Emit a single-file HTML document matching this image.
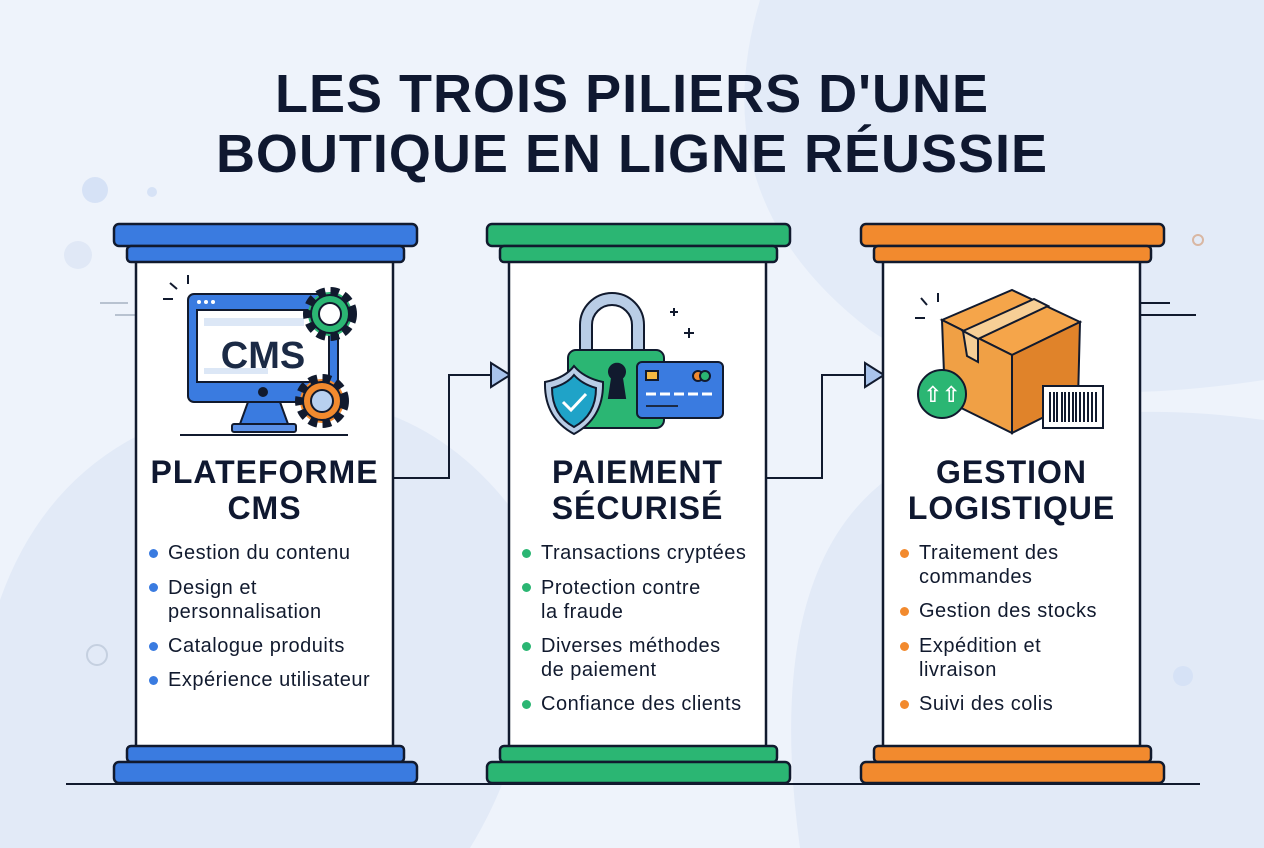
<!DOCTYPE html>
<html><head><meta charset="utf-8"><style>
*{margin:0;padding:0;box-sizing:border-box}
body{width:1264px;height:848px;overflow:hidden;background:#eef3fb;font-family:"Liberation Sans",sans-serif;position:relative;color:#111a2e}
.a{position:absolute}
.t{left:0;width:1264px;text-align:center;font-weight:bold;font-size:54px;color:#0f1830;letter-spacing:1px}
.h{text-align:center;font-weight:bold;font-size:32px;color:#0f1830;line-height:36px;width:257px;letter-spacing:1px}
.li{font-size:20px;line-height:24px;color:#111a2e;letter-spacing:0.5px}
.dot{position:absolute;width:9px;height:9px;border-radius:50%}
</style></head><body>
<svg class="a" style="left:0;top:0" width="1264" height="848">
<path d="M760 0 Q700 200 870 330 Q1000 420 1264 380 L1264 0Z" fill="#e3ebf8"/>
<path d="M0 848 L0 600 Q60 430 250 400 Q420 380 520 520 Q560 700 470 848Z" fill="#e2eaf7"/>
<path d="M800 848 Q760 560 900 470 Q1050 390 1264 420 L1264 848Z" fill="#e2eaf7"/>
<circle cx="95" cy="190" r="13" fill="#d6e2f6"/><circle cx="152" cy="192" r="5" fill="#d6e2f6"/>
<circle cx="78" cy="255" r="14" fill="#e0e8f6"/>
<circle cx="97" cy="655" r="10" fill="none" stroke="#c5d0e0" stroke-width="2"/>
<circle cx="1198" cy="240" r="5" fill="none" stroke="#d9b7a3" stroke-width="2"/>
<circle cx="1183" cy="676" r="10" fill="#d6e2f6"/>
<line x1="100" y1="303" x2="128" y2="303" stroke="#b8c2d0" stroke-width="2"/>
<line x1="115" y1="315" x2="158" y2="315" stroke="#b8c2d0" stroke-width="2"/>
<line x1="1112" y1="303" x2="1170" y2="303" stroke="#111a2e" stroke-width="2"/>
<line x1="1140" y1="315" x2="1196" y2="315" stroke="#111a2e" stroke-width="2"/>
<line x1="66" y1="784" x2="1200" y2="784" stroke="#111a2e" stroke-width="2"/>
<g stroke="#111a2e" stroke-width="2" fill="none">
<path d="M393 478 H449 V375 H492"/><path d="M766 478 H822 V375 H866"/>
</g>
<path d="M491 363 L510 375 L491 387Z" fill="#a9c4ec" stroke="#111a2e" stroke-width="2"/>
<path d="M865 363 L884 375 L865 387Z" fill="#a9c4ec" stroke="#111a2e" stroke-width="2"/>
<g stroke="#111a2e" stroke-width="2.5">
<rect x="136" y="258" width="257" height="492" fill="#fff"/>
<rect x="114" y="224" width="303" height="22" rx="5" fill="#3a7be0"/>
<rect x="127" y="246" width="277" height="16" rx="4" fill="#3a7be0"/>
<rect x="127" y="746" width="277" height="16" rx="4" fill="#3a7be0"/>
<rect x="114" y="762" width="303" height="21" rx="5" fill="#3a7be0"/>
</g>
<g stroke="#111a2e" stroke-width="2.5">
<rect x="509" y="258" width="257" height="492" fill="#fff"/>
<rect x="487" y="224" width="303" height="22" rx="5" fill="#2bb673"/>
<rect x="500" y="246" width="277" height="16" rx="4" fill="#2bb673"/>
<rect x="500" y="746" width="277" height="16" rx="4" fill="#2bb673"/>
<rect x="487" y="762" width="303" height="21" rx="5" fill="#2bb673"/>
</g>
<g stroke="#111a2e" stroke-width="2.5">
<rect x="883" y="258" width="257" height="492" fill="#fff"/>
<rect x="861" y="224" width="303" height="22" rx="5" fill="#f28a2e"/>
<rect x="874" y="246" width="277" height="16" rx="4" fill="#f28a2e"/>
<rect x="874" y="746" width="277" height="16" rx="4" fill="#f28a2e"/>
<rect x="861" y="762" width="303" height="21" rx="5" fill="#f28a2e"/>
</g>
<g stroke="#111a2e" stroke-width="2">
<rect x="188" y="294" width="150" height="108" rx="6" fill="#3a7be0"/>
<rect x="197" y="310" width="132" height="72" fill="#fff"/>
<rect x="204" y="318" width="100" height="8" fill="#dce7f6" stroke="none"/>
<rect x="204" y="368" width="64" height="6" fill="#dce7f6" stroke="none"/>
<path d="M248 402 L240 424 H288 L280 402Z" fill="#3a7be0"/>
<rect x="232" y="424" width="64" height="8" rx="2" fill="#5b90e6"/>
<circle cx="263" cy="392" r="4" fill="#111a2e"/>
<circle cx="330" cy="314" r="22" fill="#2bb673" stroke-dasharray="8 5" stroke-width="10"/>
<circle cx="330" cy="314" r="19" fill="#2bb673"/><circle cx="330" cy="314" r="11" fill="#fff"/>
<circle cx="322" cy="401" r="22" fill="#f28a2e" stroke-dasharray="8 5" stroke-width="10"/>
<circle cx="322" cy="401" r="19" fill="#f28a2e"/><circle cx="322" cy="401" r="11" fill="#b8d0f0"/>
<line x1="180" y1="435" x2="348" y2="435"/>
<line x1="188" y1="275" x2="188" y2="284"/><line x1="170" y1="283" x2="177" y2="289"/><line x1="163" y1="299" x2="173" y2="299"/>
</g>
<circle cx="199" cy="302" r="2" fill="#fff"/><circle cx="206" cy="302" r="2" fill="#fff"/><circle cx="213" cy="302" r="2" fill="#fff"/>
<text x="263" y="368" text-anchor="middle" font-family="Liberation Sans" font-weight="bold" font-size="38" fill="#1b2a45">CMS</text>
<g stroke="#111a2e" stroke-width="2">
<path d="M580 360 V325 A32 32 0 0 1 644 325 V360 H632 V325 A20 20 0 0 0 592 325 V360Z" fill="#b9cde6"/>
<rect x="568" y="350" width="96" height="78" rx="8" fill="#2bb673"/>
<path d="M612 378 a8 8 0 1 1 10 0 l3 20 h-16z" fill="#111a2e"/>
<rect x="637" y="362" width="86" height="56" rx="5" fill="#3a7be0"/>
<rect x="646" y="371" width="12" height="9" fill="#f5b942"/>
<circle cx="698" cy="376" r="5" fill="#f28a2e"/><circle cx="705" cy="376" r="5" fill="#2bb673"/>
<path d="M545 382 Q565 378 574 366 Q584 378 603 382 Q604 418 574 434 Q544 418 545 382Z" fill="#b9cde6"/>
<path d="M552 388 Q567 384 574 375 Q582 384 596 388 Q596 415 574 427 Q552 415 552 388Z" fill="#1fa3c8"/>
<path d="M563 402 L571 410 L586 394" stroke="#fff" stroke-width="3" fill="none"/>
<line x1="670" y1="312" x2="678" y2="312"/><line x1="674" y1="308" x2="674" y2="316"/>
<line x1="684" y1="333" x2="694" y2="333"/><line x1="689" y1="328" x2="689" y2="338"/>
</g>
<g stroke="#fff" stroke-width="3"><line x1="646" y1="394" x2="712" y2="394" stroke-dasharray="10 4"/></g>
<line x1="646" y1="406" x2="678" y2="406" stroke="#1b2a45" stroke-width="2"/>
<g stroke="#111a2e" stroke-width="2">
<path d="M942 320 L1012 290 L1080 322 L1012 355Z" fill="#f5a54a"/>
<path d="M942 320 L1012 355 L1012 433 L945 400Z" fill="#f0a045"/>
<path d="M1012 355 L1080 322 L1078 400 L1012 433Z" fill="#e0832a"/>
<path d="M963 331 L1034 299 L1048 306 L978 339Z" fill="#f7cf96"/>
<path d="M963 331 L978 339 L978 362 L967 356Z" fill="#f7cf96"/>
<circle cx="942" cy="394" r="24" fill="#2bb673"/>
<rect x="1043" y="386" width="60" height="42" fill="#fff"/>
<line x1="938" y1="293" x2="938" y2="302"/><line x1="921" y1="298" x2="927" y2="305"/><line x1="915" y1="318" x2="925" y2="318"/>
<path d="M1050 392 V422 M1054 392 V422 M1057 392 V422 M1062 392 V422 M1065 392 V422 M1069 392 V422 M1073 392 V422 M1076 392 V422 M1080 392 V422 M1084 392 V422 M1088 392 V422 M1092 392 V422 M1096 392 V422"/>
</g>
<text x="942" y="402" text-anchor="middle" font-size="22" font-weight="bold" fill="#fff" font-family="DejaVu Sans">⇧⇧</text>
</svg>
<div class="a t" style="top:64px;line-height:60px">LES TROIS PILIERS D'UNE<br>BOUTIQUE EN LIGNE RÉUSSIE</div>
<div class="a h" style="left:136px;top:454px">PLATEFORME<br>CMS</div>
<div class="a h" style="left:509px;top:454px">PAIEMENT<br>SÉCURISÉ</div>
<div class="a h" style="left:883px;top:454px">GESTION<br>LOGISTIQUE</div>

<div class="a li" style="left:168px;top:541px">Gestion du contenu</div>
<div class="a li" style="left:168px;top:576px">Design et<br>personnalisation</div>
<div class="a li" style="left:168px;top:634px">Catalogue produits</div>
<div class="a li" style="left:168px;top:668px">Expérience utilisateur</div>
<div class="dot" style="left:149px;top:549px;background:#3a7be0"></div>
<div class="dot" style="left:149px;top:583px;background:#3a7be0"></div>
<div class="dot" style="left:149px;top:642px;background:#3a7be0"></div>
<div class="dot" style="left:149px;top:676px;background:#3a7be0"></div>

<div class="a li" style="left:541px;top:541px">Transactions cryptées</div>
<div class="a li" style="left:541px;top:576px">Protection contre<br>la fraude</div>
<div class="a li" style="left:541px;top:634px">Diverses méthodes<br>de paiement</div>
<div class="a li" style="left:541px;top:692px">Confiance des clients</div>
<div class="dot" style="left:522px;top:549px;background:#2bb673"></div>
<div class="dot" style="left:522px;top:583px;background:#2bb673"></div>
<div class="dot" style="left:522px;top:642px;background:#2bb673"></div>
<div class="dot" style="left:522px;top:700px;background:#2bb673"></div>

<div class="a li" style="left:919px;top:541px">Traitement des<br>commandes</div>
<div class="a li" style="left:919px;top:599px">Gestion des stocks</div>
<div class="a li" style="left:919px;top:634px">Expédition et<br>livraison</div>
<div class="a li" style="left:919px;top:692px">Suivi des colis</div>
<div class="dot" style="left:900px;top:549px;background:#f28a2e"></div>
<div class="dot" style="left:900px;top:607px;background:#f28a2e"></div>
<div class="dot" style="left:900px;top:642px;background:#f28a2e"></div>
<div class="dot" style="left:900px;top:700px;background:#f28a2e"></div>
</body></html>
